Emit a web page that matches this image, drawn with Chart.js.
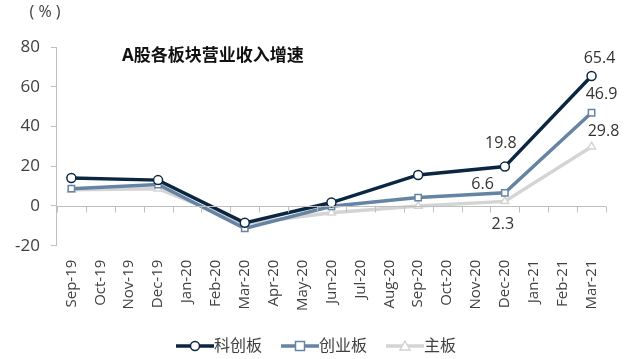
<!DOCTYPE html>
<html>
<head>
<meta charset="utf-8">
<script src="https://cdn.jsdelivr.net/npm/chart.js@4.4.0/dist/chart.umd.min.js"></script>
<style>
  html, body { margin: 0; padding: 0; background: #ffffff; }
  #wrap { width: 632px; height: 359px; position: relative; }
</style>
</head>
<body>
<div id="wrap"><canvas id="c" width="632" height="359"></canvas></div>
<script>
const categories = ["Sep-19","Oct-19","Nov-19","Dec-19","Jan-20","Feb-20","Mar-20","Apr-20","May-20","Jun-20","Jul-20","Aug-20","Sep-20","Oct-20","Nov-20","Dec-20","Jan-21","Feb-21","Mar-21"];
const seriesNames = ["科创板", "创业板", "主板"];
const star = [14.1, null, null, 13.0, null, null, -8.5, null, null, 1.7, null, null, 15.6, null, null, 19.8, null, null, 65.4];
const chinext = [8.7, null, null, 10.8, null, null, -11.3, null, null, -0.2, null, null, 4.2, null, null, 6.6, null, null, 46.9];
const mainBoard = [8.2, null, null, 8.7, null, null, -9.0, null, null, -3.4, null, null, 0.0, null, null, 2.3, null, null, 29.8];
const yTicks = [-20, 0, 20, 40, 60, 80];
const titleText = "A股各板块营业收入增速";
const unitText = "( % )";
// labelled points: [datasetIndex, categoryIndex]
const labelled = [[0,15],[0,18],[1,15],[1,18],[2,15],[2,18]];

const colors = ["#0b2640", "#6584a4", "#d4d4d4"];
const markers = ["circle", "rect", "triangle"];
const FONT = "'Open Sans', 'Noto Sans CJK SC', sans-serif";

function drawMarker(ctx, marker, cx, cy, color) {
  ctx.fillStyle = '#fff'; ctx.strokeStyle = color; ctx.lineWidth = 1.5;
  ctx.beginPath();
  if (marker === 'circle') ctx.arc(cx, cy, 4.5, 0, Math.PI*2);
  else if (marker === 'rect') ctx.rect(cx - 4.5, cy - 4.5, 9, 9);
  else { ctx.moveTo(cx, cy - 5); ctx.lineTo(cx + 5, cy + 4); ctx.lineTo(cx - 5, cy + 4); ctx.closePath(); }
  ctx.fill(); ctx.stroke();
}

const datasets = [star, chinext, mainBoard].map((d, i) => ({
  label: seriesNames[i],
  data: d,
  borderColor: colors[i],
  backgroundColor: '#ffffff',
  borderWidth: 3.5,
  pointStyle: markers[i],
  pointRadius: 4.5,
  pointBorderWidth: 1.5,
  pointBackgroundColor: '#ffffff',
  pointBorderColor: colors[i],
  spanGaps: true,
  tension: 0
}));

const decor = {
  id: 'decor',
  afterDraw(chart) {
    const ctx = chart.ctx;
    const x = chart.scales.x, y = chart.scales.y;
    const ca = chart.chartArea;
    ctx.save();
    // zero baseline with tick marks between categories
    const y0 = Math.round(y.getPixelForValue(0)) + 0.5;
    ctx.strokeStyle = '#bfbfbf'; ctx.lineWidth = 1;
    ctx.beginPath(); ctx.moveTo(ca.left, y0); ctx.lineTo(ca.right, y0); ctx.stroke();
    const step = x.getPixelForValue(1) - x.getPixelForValue(0);
    for (let i = 0; i <= categories.length; i++) {
      const px = Math.round(x.getPixelForValue(i) - step / 2) + 0.5;
      ctx.beginPath(); ctx.moveTo(px, y0); ctx.lineTo(px, y0 + 6); ctx.stroke();
    }
    // unit
    ctx.fillStyle = '#404040';
    ctx.font = '16px ' + FONT;
    ctx.textAlign = 'center'; ctx.textBaseline = 'middle';
    ctx.fillText(unitText, 45, 12);
    // title
    ctx.fillStyle = '#111111';
    ctx.font = 'bold 17px ' + FONT;
    ctx.textAlign = 'left';
    ctx.fillText(titleText, ca.left + 65, y.getPixelForValue(75.5));
    // data labels
    ctx.font = '16px ' + FONT;
    ctx.fillStyle = '#333333';
    const offsets = {
      '0,15': [-4, -23, 'center'],
      '0,18': [8, -18, 'center'],
      '1,15': [-11, -8, 'right'],
      '1,18': [10, -18, 'center'],
      '2,15': [-2, 23, 'center'],
      '2,18': [12, -15, 'center']
    };
    labelled.forEach(([di, ci]) => {
      const el = chart.getDatasetMeta(di).data[ci];
      const v = chart.data.datasets[di].data[ci];
      const o = offsets[di + ',' + ci];
      ctx.textAlign = o[2];
      ctx.fillText(v.toFixed(1), el.x + o[0], el.y + o[1]);
    });
    // legend
    ctx.font = '16px ' + FONT;
    const lineLen = 38, gap = 19;
    const widths = seriesNames.map(n => lineLen + ctx.measureText(n).width);
    const total = widths.reduce((a, b) => a + b, 0) + gap * (seriesNames.length - 1);
    let lx = chart.width / 2 - total / 2;
    const ly = 346;
    seriesNames.forEach((n, i) => {
      ctx.strokeStyle = colors[i]; ctx.lineWidth = 3.5;
      ctx.beginPath(); ctx.moveTo(lx, ly); ctx.lineTo(lx + lineLen, ly); ctx.stroke();
      drawMarker(ctx, markers[i], lx + lineLen / 2, ly, colors[i]);
      ctx.fillStyle = '#404040';
      ctx.textAlign = 'left'; ctx.textBaseline = 'middle';
      ctx.fillText(n, lx + lineLen, ly);
      lx += widths[i] + gap;
    });
    ctx.restore();
  }
};

new Chart(document.getElementById('c'), {
  type: 'line',
  data: { labels: categories, datasets },
  options: {
    responsive: false,
    animation: false,
    layout: { padding: { top: 47, right: 26, left: 4, bottom: 34 } },
    plugins: {
      tooltip: { enabled: false },
      title: { display: false },
      legend: { display: false }
    },
    scales: {
      x: {
        offset: true,
        grid: { display: false, drawTicks: false },
        border: { display: false },
        ticks: {
          autoSkip: false,
          maxRotation: 90, minRotation: 90,
          padding: 14,
          color: '#404040',
          font: { size: 15, family: FONT }
        }
      },
      y: {
        min: -20, max: 80,
        afterBuildTicks(scale) { scale.ticks = yTicks.map(v => ({ value: v })); },
        grid: { drawOnChartArea: false, drawTicks: true, tickLength: 6, color: '#bfbfbf' },
        border: { display: true, color: '#bfbfbf' },
        ticks: {
          padding: 11,
          color: '#404040',
          font: { size: 17, family: FONT }
        }
      }
    }
  },
  plugins: [decor]
});
</script>
</body>
</html>
